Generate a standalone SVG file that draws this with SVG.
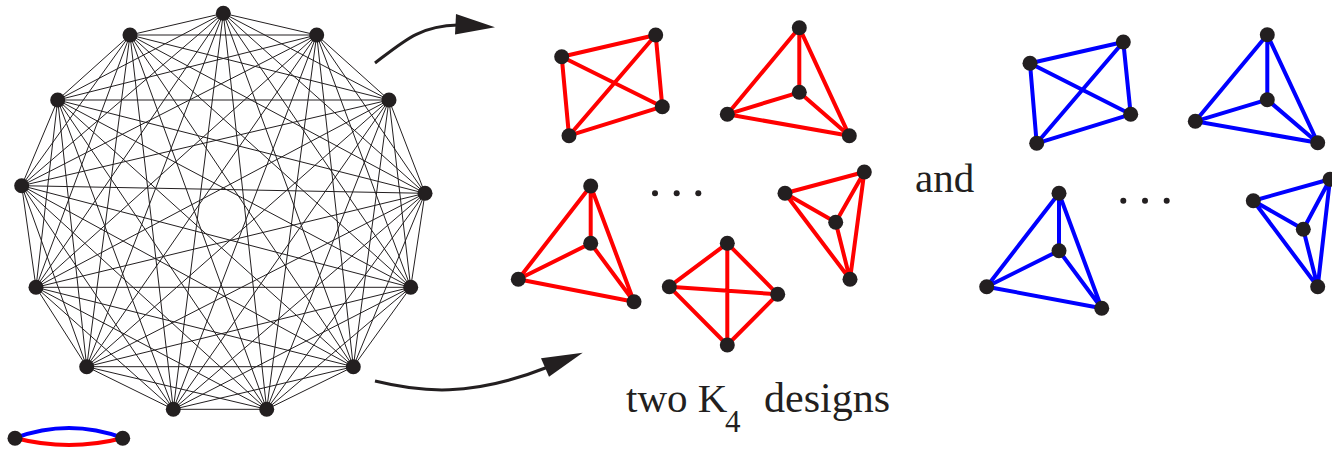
<svg xmlns="http://www.w3.org/2000/svg" width="1332" height="449" viewBox="0 0 1332 449">
<style>
.k13{fill:none;stroke:#231f20;stroke-width:1;stroke-linejoin:round}
.r{fill:none;stroke:#ff0000;stroke-width:4;stroke-linejoin:round;stroke-linecap:round}
.b{fill:none;stroke:#0000ff;stroke-width:4;stroke-linejoin:round;stroke-linecap:round}
.dot{fill:#231f20}
.arr{fill:none;stroke:#231f20;stroke-width:3}
.head{fill:#231f20}
.t{font-family:"Liberation Serif","Times New Roman",serif;fill:#231f20}
</style>
<rect width="1332" height="449" fill="#fff"/>
<g id="K13">
<path class="k13" d="M223.3,13.3 L316.7,35 L389,100 L425,193.3 L410.7,287.3 L353.3,366.7 L266.7,409.3 L173.3,409.3 L86.7,366.7 L36,287.3 L21.7,185.7 L57.7,100 L130,35 Z"/>
<path class="k13" d="M223.3,13.3 L389,100 L410.7,287.3 L266.7,409.3 L86.7,366.7 L21.7,185.7 L130,35 L316.7,35 L425,193.3 L353.3,366.7 L173.3,409.3 L36,287.3 L57.7,100 Z"/>
<path class="k13" d="M223.3,13.3 L425,193.3 L266.7,409.3 L36,287.3 L130,35 L389,100 L353.3,366.7 L86.7,366.7 L57.7,100 L316.7,35 L410.7,287.3 L173.3,409.3 L21.7,185.7 Z"/>
<path class="k13" d="M223.3,13.3 L410.7,287.3 L86.7,366.7 L130,35 L425,193.3 L173.3,409.3 L57.7,100 L389,100 L266.7,409.3 L21.7,185.7 L316.7,35 L353.3,366.7 L36,287.3 Z"/>
<path class="k13" d="M223.3,13.3 L353.3,366.7 L21.7,185.7 L389,100 L173.3,409.3 L130,35 L410.7,287.3 L36,287.3 L316.7,35 L266.7,409.3 L57.7,100 L425,193.3 L86.7,366.7 Z"/>
<path class="k13" d="M223.3,13.3 L266.7,409.3 L130,35 L353.3,366.7 L57.7,100 L410.7,287.3 L21.7,185.7 L425,193.3 L36,287.3 L389,100 L86.7,366.7 L316.7,35 L173.3,409.3 Z"/>
<g class="dot">
<circle cx="223.3" cy="13.3" r="7.5"/><circle cx="316.7" cy="35" r="7.5"/><circle cx="389" cy="100" r="7.5"/><circle cx="425" cy="193.3" r="7.5"/><circle cx="410.7" cy="287.3" r="7.5"/><circle cx="353.3" cy="366.7" r="7.5"/><circle cx="266.7" cy="409.3" r="7.5"/><circle cx="173.3" cy="409.3" r="7.5"/><circle cx="86.7" cy="366.7" r="7.5"/><circle cx="36" cy="287.3" r="7.5"/><circle cx="21.7" cy="185.7" r="7.5"/><circle cx="57.7" cy="100" r="7.5"/><circle cx="130" cy="35" r="7.5"/>
</g>
</g>
<g id="double-edge">
<path class="b" d="M15,438 Q69,418 123,438"/>
<path class="r" d="M15,438 Q69,452 123,438"/>
<circle class="dot" cx="15" cy="438.3" r="7.5"/><circle class="dot" cx="122.7" cy="438.3" r="7.5"/>
</g>
<g id="red1">
<path class="r" d="M561.7,56.7 L655.7,35 L662.3,106.7 L569,135.7 Z M561.7,56.7 L662.3,106.7 M655.7,35 L569,135.7"/>
<g class="dot"><circle cx="561.7" cy="56.7" r="7.5"/><circle cx="655.7" cy="35" r="7.5"/><circle cx="662.3" cy="106.7" r="7.5"/><circle cx="569" cy="135.7" r="7.5"/></g>
</g>
<g id="red2">
<path class="r" d="M799.3,27.7 L727.3,114.3 L849.3,135.7 Z M799.3,27.7 L799.3,92.3 M727.3,114.3 L799.3,92.3 L849.3,135.7"/>
<g class="dot"><circle cx="799.3" cy="27.7" r="7.5"/><circle cx="799.3" cy="92.3" r="7.5"/><circle cx="727.3" cy="114.3" r="7.5"/><circle cx="849.3" cy="135.7" r="7.5"/></g>
</g>
<g id="red3">
<path class="r" d="M590.7,186 L518.3,279.3 L634,301.7 Z M590.7,186 L590.7,243.3 M518.3,279.3 L590.7,243.3 L634,301.7"/>
<g class="dot"><circle cx="590.7" cy="186" r="7.5"/><circle cx="590.7" cy="243.3" r="7.5"/><circle cx="518.3" cy="279.3" r="7.5"/><circle cx="634" cy="301.7" r="7.5"/></g>
</g>
<g id="red4">
<path class="r" d="M727.3,243.3 L669.3,286.7 L727.3,345 L777.7,294.3 Z M727.3,243.3 L727.3,345 M669.3,286.7 L777.7,294.3"/>
<g class="dot"><circle cx="727.3" cy="243.3" r="7.5"/><circle cx="669.3" cy="286.7" r="7.5"/><circle cx="777.7" cy="294.3" r="7.5"/><circle cx="727.3" cy="345" r="7.5"/></g>
</g>
<g id="red5">
<path class="r" d="M864.3,172 L785,193.3 L850,279.3 Z M864.3,172 L835.7,222.3 M785,193.3 L835.7,222.3 L850,279.3"/>
<g class="dot"><circle cx="864.3" cy="172" r="7.5"/><circle cx="785" cy="193.3" r="7.5"/><circle cx="835.7" cy="222.3" r="7.5"/><circle cx="850" cy="279.3" r="7.5"/></g>
</g>
<g id="dots-red" class="dot"><circle cx="655" cy="193.3" r="3"/><circle cx="676.7" cy="193.3" r="3"/><circle cx="698.3" cy="193.3" r="3"/></g>
<g id="blue1">
<path class="b" d="M1030,63.3 L1123.3,42 L1130.7,114.3 L1036.7,143.3 Z M1030,63.3 L1130.7,114.3 M1123.3,42 L1036.7,143.3"/>
<g class="dot"><circle cx="1030" cy="63.3" r="7.5"/><circle cx="1123.3" cy="42" r="7.5"/><circle cx="1130.7" cy="114.3" r="7.5"/><circle cx="1036.7" cy="143.3" r="7.5"/></g>
</g>
<g id="blue2">
<path class="b" d="M1267.3,34.7 L1195.3,121.3 L1317.7,142.7 Z M1267.3,34.7 L1267.3,99.7 M1195.3,121.3 L1267.3,99.7 L1317.7,142.7"/>
<g class="dot"><circle cx="1267.3" cy="34.7" r="7.5"/><circle cx="1267.3" cy="99.7" r="7.5"/><circle cx="1195.3" cy="121.3" r="7.5"/><circle cx="1317.7" cy="142.7" r="7.5"/></g>
</g>
<g id="blue3">
<path class="b" d="M1059,193.3 L986.7,286.7 L1101.7,308.3 Z M1059,193.3 L1059,250.7 M986.7,286.7 L1059,250.7 L1101.7,308.3"/>
<g class="dot"><circle cx="1059" cy="193.3" r="7.5"/><circle cx="1059" cy="250.7" r="7.5"/><circle cx="986.7" cy="286.7" r="7.5"/><circle cx="1101.7" cy="308.3" r="7.5"/></g>
</g>
<g id="blue4">
<path class="b" d="M1330,179.3 L1253.3,200.7 L1317.7,286.7 Z M1330,179.3 L1303.3,229.3 M1253.3,200.7 L1303.3,229.3 L1317.7,286.7"/>
<g class="dot"><circle cx="1330" cy="179.3" r="7.5"/><circle cx="1253.3" cy="200.7" r="7.5"/><circle cx="1303.3" cy="229.3" r="7.5"/><circle cx="1317.7" cy="286.7" r="7.5"/></g>
</g>
<g id="dots-blue" class="dot"><circle cx="1123.3" cy="200.7" r="3"/><circle cx="1145" cy="200.7" r="3"/><circle cx="1166.7" cy="200.7" r="3"/></g>
<g id="labels">
<text class="t" x="915" y="192" font-size="41">and</text>
<text class="t" x="626" y="411.5" font-size="41">two K</text>
<text class="t" x="725" y="431.5" font-size="31">4</text>
<text class="t" x="764" y="411.5" font-size="42">designs</text>
</g>
<g id="connectors">
<path class="arr" d="M375,63 C405,40 420,26 458,25"/>
<polygon class="head" points="456,14 495,27.3 455,34.5"/>
<path class="arr" d="M375,381 C420,392 470,398 548,367"/>
<polygon class="head" points="582.7,352.7 541,358.3 549,376.7"/>
</g>
</svg>
